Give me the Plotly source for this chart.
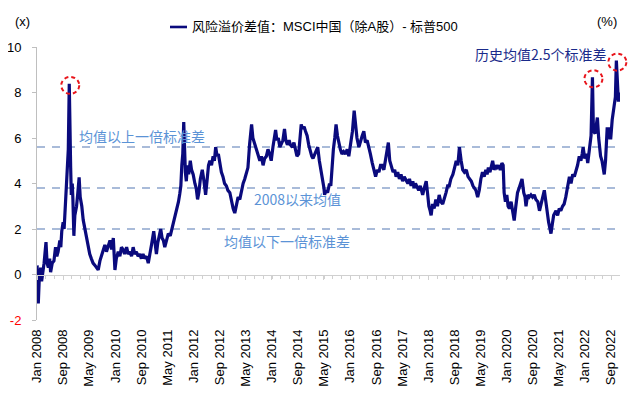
from datetime import datetime
import plotly.graph_objects as go

# ---------------- data ----------------
dates = [
    "2008-01-02", "2008-01-04", "2008-01-13", "2008-01-22", "2008-02-04", "2008-02-13", "2008-02-22",
    "2008-03-07", "2008-03-25", "2008-04-04", "2008-04-16", "2008-04-28", "2008-05-07", "2008-05-22",
    "2008-06-07", "2008-06-22", "2008-07-04", "2008-07-16", "2008-08-01", "2008-08-10", "2008-08-19",
    "2008-09-01", "2008-09-10", "2008-09-19", "2008-10-01", "2008-10-10", "2008-10-19", "2008-10-28",
    "2008-11-04", "2008-11-10", "2008-11-16", "2008-11-25", "2008-12-01", "2008-12-10", "2008-12-19",
    "2009-01-04", "2009-01-16", "2009-01-28", "2009-02-07", "2009-02-22", "2009-03-07", "2009-03-22",
    "2009-04-07", "2009-04-22", "2009-05-07", "2009-05-22", "2009-06-07", "2009-06-25", "2009-07-10",
    "2009-07-25", "2009-08-10", "2009-08-25", "2009-09-10", "2009-09-25", "2009-10-10", "2009-10-25",
    "2009-11-12", "2009-11-27", "2009-12-13", "2009-12-28", "2010-01-10", "2010-01-28", "2010-02-12",
    "2010-02-27", "2010-03-13", "2010-03-28", "2010-04-16", "2010-05-01", "2010-05-16", "2010-06-01",
    "2010-06-16", "2010-07-01", "2010-07-16", "2010-08-01", "2010-08-16", "2010-09-01", "2010-09-16",
    "2010-10-01", "2010-10-19", "2010-11-04", "2010-11-19", "2010-12-04", "2010-12-25", "2011-01-07",
    "2011-01-19", "2011-02-01", "2011-02-16", "2011-02-28", "2011-03-13", "2011-03-25", "2011-04-07",
    "2011-04-22", "2011-05-10", "2011-05-28", "2011-06-13", "2011-07-01", "2011-07-16", "2011-08-01",
    "2011-08-13", "2011-08-25", "2011-09-04", "2011-09-13", "2011-09-22", "2011-10-01", "2011-10-07",
    "2011-10-16", "2011-10-25", "2011-11-04", "2011-11-16", "2011-12-01", "2011-12-13", "2011-12-28",
    "2012-01-13", "2012-01-25", "2012-02-07", "2012-02-19", "2012-03-04", "2012-03-22", "2012-04-07",
    "2012-04-22", "2012-05-07", "2012-05-19", "2012-06-01", "2012-06-16", "2012-07-01", "2012-07-13",
    "2012-07-25", "2012-08-07", "2012-08-19", "2012-09-01", "2012-09-16", "2012-10-01", "2012-10-16",
    "2012-11-01", "2012-11-16", "2012-12-04", "2012-12-19", "2013-01-04", "2013-01-19", "2013-02-04",
    "2013-02-19", "2013-03-07", "2013-03-22", "2013-04-07", "2013-04-22", "2013-05-07", "2013-05-22",
    "2013-06-07", "2013-06-25", "2013-07-07", "2013-07-22", "2013-08-07", "2013-08-22", "2013-09-10",
    "2013-09-25", "2013-10-10", "2013-10-25", "2013-11-10", "2013-11-25", "2013-12-10", "2013-12-25",
    "2014-01-10", "2014-01-22", "2014-02-04", "2014-02-16", "2014-03-01", "2014-03-16", "2014-03-28",
    "2014-04-13", "2014-04-28", "2014-05-10", "2014-05-25", "2014-06-10", "2014-06-22", "2014-07-10",
    "2014-07-25", "2014-08-10", "2014-08-22", "2014-09-07", "2014-09-19", "2014-10-01", "2014-10-13",
    "2014-10-28", "2014-11-10", "2014-11-25", "2014-12-10", "2014-12-25", "2015-01-07", "2015-01-19",
    "2015-02-04", "2015-02-19", "2015-03-04", "2015-03-19", "2015-04-04", "2015-04-19", "2015-05-01",
    "2015-05-07", "2015-05-19", "2015-06-04", "2015-06-22", "2015-07-04", "2015-07-16", "2015-07-28",
    "2015-08-10", "2015-08-22", "2015-09-04", "2015-09-16", "2015-10-01", "2015-10-16", "2015-11-01",
    "2015-11-19", "2015-12-04", "2015-12-19", "2016-01-01", "2016-01-10", "2016-01-22", "2016-02-07",
    "2016-02-19", "2016-03-04", "2016-03-22", "2016-04-07", "2016-04-22", "2016-05-07", "2016-05-22",
    "2016-06-07", "2016-06-22", "2016-07-07", "2016-07-25", "2016-08-10", "2016-08-25", "2016-09-10",
    "2016-09-25", "2016-10-10", "2016-10-25", "2016-11-10", "2016-11-25", "2016-12-10", "2016-12-22",
    "2017-01-04", "2017-01-19", "2017-02-04", "2017-02-19", "2017-03-04", "2017-03-19", "2017-04-04",
    "2017-04-19", "2017-05-04", "2017-05-19", "2017-06-07", "2017-06-22", "2017-07-07", "2017-07-22",
    "2017-08-07", "2017-08-19", "2017-09-01", "2017-09-16", "2017-10-01", "2017-10-16", "2017-11-01",
    "2017-11-07", "2017-11-22", "2017-12-10", "2017-12-22", "2018-01-04", "2018-01-16", "2018-01-25",
    "2018-02-07", "2018-02-22", "2018-03-10", "2018-03-25", "2018-04-10", "2018-04-25", "2018-05-13",
    "2018-05-28", "2018-06-13", "2018-06-28", "2018-07-13", "2018-07-28", "2018-08-16", "2018-09-01",
    "2018-09-16", "2018-10-01", "2018-10-16", "2018-11-01", "2018-11-16", "2018-12-01", "2018-12-19",
    "2019-01-04", "2019-01-19", "2019-02-04", "2019-02-19", "2019-03-04", "2019-03-19", "2019-04-04",
    "2019-04-19", "2019-05-04", "2019-05-19", "2019-06-04", "2019-06-19", "2019-07-01", "2019-07-13",
    "2019-07-28", "2019-08-10", "2019-08-22", "2019-09-04", "2019-09-19", "2019-10-01", "2019-10-16",
    "2019-11-01", "2019-11-16", "2019-11-28", "2019-12-07", "2019-12-19", "2020-01-01", "2020-01-13",
    "2020-01-25", "2020-02-10", "2020-02-25", "2020-03-10", "2020-03-25", "2020-04-10", "2020-04-25",
    "2020-05-10", "2020-05-22", "2020-06-07", "2020-06-19", "2020-06-28", "2020-07-13", "2020-07-28",
    "2020-08-13", "2020-08-28", "2020-09-13", "2020-09-28", "2020-10-16", "2020-11-01", "2020-11-16",
    "2020-12-01", "2020-12-16", "2021-01-01", "2021-01-16", "2021-01-25", "2021-02-07", "2021-02-16",
    "2021-02-28", "2021-03-13", "2021-04-04", "2021-04-19", "2021-05-04", "2021-05-19", "2021-06-04",
    "2021-06-19", "2021-07-04", "2021-07-19", "2021-08-07", "2021-08-22", "2021-09-07", "2021-09-22",
    "2021-10-07", "2021-10-22", "2021-11-07", "2021-11-22", "2021-12-04", "2021-12-13", "2021-12-28",
    "2022-01-13", "2022-01-25", "2022-02-10", "2022-02-25", "2022-03-10", "2022-03-19", "2022-04-04",
    "2022-04-16", "2022-04-25", "2022-05-07", "2022-05-25", "2022-06-07", "2022-06-19", "2022-06-28",
    "2022-07-10", "2022-07-25", "2022-08-07", "2022-08-19", "2022-08-28", "2022-09-10", "2022-09-28",
    "2022-10-10", "2022-10-19", "2022-10-28", "2022-11-07", "2022-11-18",
]
spread = [
    0.4, -0.5, -1.27, -0.2, 0.3, -0.3, 0.0,
    0.5, 1.42, 0.5, 0.3, 0.7, 0.1, 0.5,
    0.6, 1.2, 0.8, 1.0, 1.5, 1.2, 1.9,
    2.3, 2.0, 2.9, 3.8, 4.3, 5.5, 8.38,
    5.0, 4.7, 3.5, 4.0, 3.3, 1.7, 2.6,
    3.0, 3.6, 4.27, 3.4, 3.0, 2.4, 2.0,
    1.6, 1.3, 0.9, 0.7, 0.5, 0.4, 0.3,
    0.2, 0.6, 0.8, 1.1, 1.3, 1.0, 1.2,
    1.5, 1.1, 1.6, 0.2, 0.7, 1.0, 0.8,
    1.2, 1.1, 0.9, 1.2, 0.9, 1.0, 0.8,
    1.2, 0.9, 1.0, 0.8, 0.9, 0.7, 0.9,
    0.7, 0.8, 0.5, 1.0, 1.3, 1.9, 1.3,
    0.9, 1.4, 1.7, 2.0, 1.6, 1.5, 1.2,
    1.5, 1.8, 1.7, 2.0, 2.3, 2.7, 2.9,
    3.2, 3.55, 3.9, 4.8, 5.3, 6.7, 5.2,
    4.5, 4.1, 4.8, 4.4, 5.0, 4.6, 4.4,
    4.0, 3.8, 3.3, 3.6, 4.2, 4.6, 4.1,
    3.5, 4.2, 4.8, 5.0, 4.8, 5.2, 5.0,
    5.6, 5.2, 5.3, 4.9, 4.5, 4.3, 4.0,
    3.9, 3.7, 3.6, 3.2, 2.9, 2.7, 3.0,
    3.4, 3.3, 3.7, 4.0, 4.2, 4.5, 4.7,
    5.75, 6.6, 6.0, 5.8, 5.5, 5.3, 5.0,
    5.2, 4.8, 5.1, 5.2, 5.5, 5.3, 5.0,
    5.6, 6.0, 6.35, 5.9, 6.0, 5.6, 5.7,
    5.9, 6.4, 5.9, 5.7, 5.9, 5.7, 5.6,
    5.8, 5.4, 5.2, 5.3, 5.9, 6.6, 6.4,
    6.5, 6.3, 6.1, 5.7, 5.4, 5.2, 5.1,
    5.3, 5.4, 5.6, 5.0, 4.6, 4.2, 3.8,
    3.5, 3.7, 3.6, 4.0, 3.9, 5.0, 5.5,
    6.0, 6.6, 6.1, 5.8, 5.5, 5.3, 5.4,
    5.3, 5.5, 5.2, 5.6, 5.8, 6.3, 7.2,
    6.6, 6.0, 5.6, 5.9, 6.1, 6.3, 5.8,
    5.9, 5.5, 5.3, 4.9, 4.6, 4.3, 4.6,
    4.5, 4.8, 4.8, 4.6, 5.0, 5.3, 5.8,
    5.0, 4.7, 4.5, 4.6, 4.3, 4.5, 4.2,
    4.4, 4.1, 4.3, 4.1, 4.0, 4.2, 3.9,
    4.1, 3.8, 4.0, 3.8, 3.7, 3.9, 3.6,
    3.5, 3.8, 4.1, 3.6, 3.0, 2.8, 2.6,
    3.1, 2.9, 3.3, 3.0, 3.5, 3.2, 3.1,
    3.3, 3.6, 3.9, 3.9, 4.2, 4.4, 4.7,
    5.0, 4.8, 5.6, 5.0, 4.6, 4.5, 4.6,
    4.3, 4.2, 4.1, 3.9, 3.8, 3.7, 3.4,
    3.7, 4.2, 4.5, 4.3, 4.6, 4.4, 4.7,
    4.5, 4.7, 5.0, 4.6, 4.8, 4.7, 4.8,
    4.6, 4.9, 4.8, 3.6, 3.2, 3.5, 3.0,
    2.9, 3.2, 2.7, 2.37, 3.0, 3.6, 3.8,
    4.0, 4.2, 3.6, 3.4, 3.0, 3.5, 3.4,
    3.5, 3.4, 3.5, 3.3, 3.2, 2.8, 3.2,
    3.4, 3.7, 3.1, 2.6, 2.3, 2.0, 1.8,
    2.2, 2.6, 2.8, 2.6, 2.9, 2.8, 3.0,
    3.1, 3.4, 3.8, 4.3, 4.0, 4.4, 4.3,
    4.5, 4.8, 5.2, 5.0, 5.3, 5.6, 5.1,
    5.3, 4.9, 5.5, 6.1, 8.67, 6.3, 6.2,
    6.5, 6.9, 6.0, 5.2, 5.0, 4.6, 4.4,
    5.0, 6.4, 6.4, 6.0, 6.0, 6.8, 7.4,
    7.8, 9.4, 8.2, 7.6, 8.0,
]

series_name = "风险溢价差值：MSCI中国（除A股）- 标普500"

mean_since_2008 = 3.8
one_std = 1.8

tick_dates = [
    "2008-01-01", "2008-09-01", "2009-05-01", "2010-01-01", "2010-09-01", "2011-05-01",
    "2012-01-01", "2012-09-01", "2013-05-01", "2014-01-01", "2014-09-01", "2015-05-01",
    "2016-01-01", "2016-09-01", "2017-05-01", "2018-01-01", "2018-09-01", "2019-05-01",
    "2020-01-01", "2020-09-01", "2021-05-01", "2022-01-01", "2022-09-01",
]
tick_labels = [
    "Jan 2008", "Sep 2008", "May 2009", "Jan 2010", "Sep 2010", "May 2011",
    "Jan 2012", "Sep 2012", "May 2013", "Jan 2014", "Sep 2014", "May 2015",
    "Jan 2016", "Sep 2016", "May 2017", "Jan 2018", "Sep 2018", "May 2019",
    "Jan 2020", "Sep 2020", "May 2021", "Jan 2022", "Sep 2022",
]
y_ticks = [-2, 0, 2, 4, 6, 8, 10]

band_labels = ["均值以上一倍标准差", "2008以来均值", "均值以下一倍标准差"]
peak_note = "历史均值2.5个标准差"
highlight_dates = ["2008-10-28", "2022-03-10", "2022-10-19"]

# ---------------- styling ----------------
NAVY = "#0a0a7d"
LIGHT_BLUE = "#5b93d6"
DASH_COLOR = "#a9bbd9"
FONT = "Liberation Sans, Arial, Noto Sans CJK SC, sans-serif"
CJK = "Noto Sans CJK SC, Liberation Sans, sans-serif"

Y_MIN, Y_MAX = -2, 10
X_START, X_END = "2008-01-01", "2022-11-22"

fig = go.Figure()
fig.add_trace(go.Scatter(
    x=dates, y=spread, mode="lines", name=series_name,
    line=dict(color=NAVY, width=3.2), showlegend=False,
))
# helper trace to carry the axis line drawn at y = 0
fig.add_trace(go.Scatter(x=[dates[0]], y=[None], xaxis="x2", yaxis="y",
                         showlegend=False, hoverinfo="skip"))

y_ticktext = [f'<span style="color:#ff0000">{v}</span>' if v < 0 else str(v) for v in y_ticks]

# the page body has an 8px default margin, so the figure is 8px smaller than the window
fig.update_layout(
    width=632, height=389,
    margin=dict(l=29, r=20, t=39, b=77, autoexpand=False),
    paper_bgcolor="white", plot_bgcolor="white",
    font=dict(family=FONT, size=13, color="#000000"),
    xaxis=dict(
        type="date", range=[X_START, X_END], automargin=False,
        tickmode="array", tickvals=tick_dates, ticktext=tick_labels,
        tickangle=-90, ticks="", showline=False, showgrid=False, zeroline=False,
        tickfont=dict(family=FONT, size=13, color="#000000"),
        ticklabelstandoff=6,
    ),
    xaxis2=dict(
        type="date", range=[X_START, X_END], overlaying="x", anchor="free",
        position=(0 - Y_MIN) / (Y_MAX - Y_MIN), automargin=False,
        showticklabels=False, showgrid=False, zeroline=False,
        showline=True, linecolor="#d0d0d0", linewidth=1,
        tickmode="array", tickvals=tick_dates,
        ticks="outside", ticklen=4, tickcolor="#d0d0d0",
        minor=dict(ticks="outside", ticklen=3, tickcolor="#d0d0d0",
                   tick0="2008-01-01", dtick=81.2 * 86400000),
    ),
    yaxis=dict(
        range=[Y_MIN, Y_MAX], tickmode="array", tickvals=y_ticks, ticktext=y_ticktext,
        ticks="outside", ticklen=4, tickcolor="#bfbfbf", automargin=False,
        showline=True, linecolor="#bfbfbf", linewidth=1,
        showgrid=False, zeroline=False,
        tickfont=dict(family=FONT, size=13, color="#000000"),
        ticklabelstandoff=8,
    ),
)

# horizontal dashed reference lines: mean and mean +/- one standard deviation
for level in [mean_since_2008 + one_std, mean_since_2008, mean_since_2008 - one_std]:
    fig.add_shape(type="line", xref="paper", yref="y", x0=0, x1=1, y0=level, y1=level,
                  line=dict(color=DASH_COLOR, width=2, dash="8px,7px"), layer="below")

# text labels of the reference lines
band_pos = [(0.0686, 6.09), (0.3687, 3.32), (0.3173, 1.47)]
for text, (xp, yv) in zip(band_labels, band_pos):
    fig.add_annotation(text=text, xref="paper", yref="y", x=xp, y=yv,
                       xanchor="left", yanchor="middle", showarrow=False,
                       font=dict(family=CJK, size=14, color=LIGHT_BLUE))

fig.add_annotation(text=peak_note, xref="paper", yref="y", x=0.7479, y=9.69,
                   xanchor="left", yanchor="middle", showarrow=False,
                   font=dict(family=CJK, size=14, color="#1a2a8a"))

# red dashed circles around the extreme peaks (placed in paper units so they are not clipped)
t_start = datetime.fromisoformat(X_START)
t_span = datetime.fromisoformat(X_END) - t_start
for d in highlight_dates:
    v = spread[dates.index(d)]
    xp = (datetime.fromisoformat(d) - t_start) / t_span
    yp = (v - Y_MIN) / (Y_MAX - Y_MIN)
    fig.add_shape(type="circle", xref="paper", yref="paper", xsizemode="pixel", ysizemode="pixel",
                  xanchor=xp, yanchor=yp, x0=-8, x1=10, y0=-10, y1=7,
                  line=dict(color="#e8141b", width=2, dash="4px,3px"))

# legend drawn as line sample + text
fig.add_shape(type="line", xref="paper", yref="paper", x0=0.2281, x1=0.2573,
              y0=1.0733, y1=1.0733, line=dict(color=NAVY, width=2.6))
fig.add_annotation(text=series_name, xref="paper", yref="paper", x=0.2624, y=1.0733,
                   xanchor="left", yanchor="middle", showarrow=False,
                   font=dict(family=FONT, size=13, color="#000000"))

# unit labels
fig.add_annotation(text="(x)", xref="paper", yref="paper", x=-0.0257, y=1.095,
                   xanchor="center", yanchor="middle", showarrow=False,
                   font=dict(family=FONT, size=13, color="#000000"))
fig.add_annotation(text="(%)", xref="paper", yref="paper", x=0.9777, y=1.0916,
                   xanchor="center", yanchor="middle", showarrow=False,
                   font=dict(family=FONT, size=13, color="#000000"))

fig.write_html("out.html")
